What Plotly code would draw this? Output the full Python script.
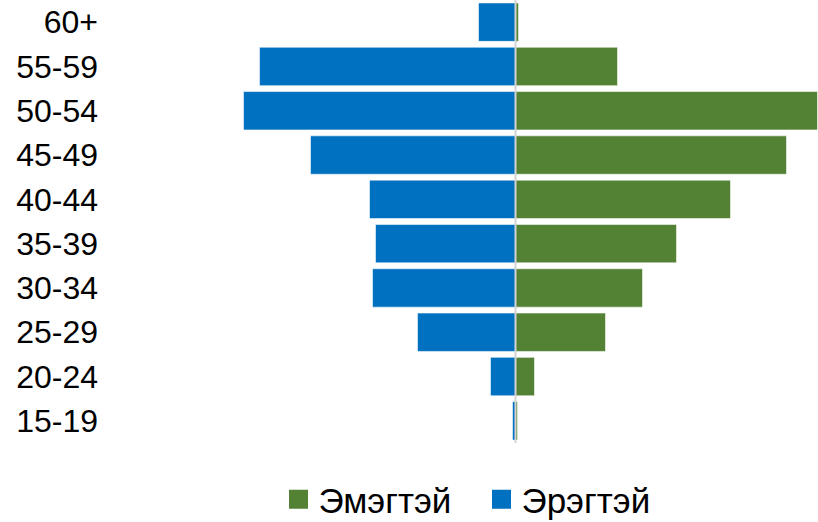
import plotly.graph_objects as go

age_groups = ["60+", "55-59", "50-54", "45-49", "40-44", "35-39", "30-34", "25-29", "20-24", "15-19"]
male = [37, 256, 272, 205, 146, 140, 143, 98, 25, 3]
female = [3, 102, 302, 271, 215, 161, 127, 90, 19, 2]
male_name = "Эрэгтэй"
female_name = "Эмэгтэй"

BLUE = "#0070C0"
GREEN = "#548235"
FONT = "Liberation Sans, Arial, sans-serif"

fig = go.Figure()
fig.add_trace(go.Bar(
    y=age_groups, x=[-v for v in male], orientation="h", name=male_name,
    marker=dict(color=BLUE, line=dict(color="rgba(255,255,255,0.55)", width=1)),
    showlegend=False,
))
fig.add_trace(go.Bar(
    y=age_groups, x=female, orientation="h", name=female_name,
    marker=dict(color=GREEN, line=dict(color="rgba(255,255,255,0.55)", width=1)),
    showlegend=False,
))
# legend entries (female first, as in the reference)
for nm, col in [(female_name, GREEN), (male_name, BLUE)]:
    fig.add_trace(go.Scatter(
        x=[None], y=[None], mode="markers", name=nm,
        marker=dict(symbol="square", size=19, color=col, line=dict(color=col, width=3)),
        showlegend=True,
    ))

fig.add_shape(type="line", xref="x", yref="paper", x0=0, x1=0, y0=0, y1=1,
              line=dict(color="#d4d4d4", width=2), layer="above")

fig.update_layout(
    width=818, height=522,
    margin=dict(l=99, r=0, t=0, b=78.5, autoexpand=False),
    paper_bgcolor="white", plot_bgcolor="white",
    barmode="relative", bargap=0.133,
    font=dict(family=FONT, size=32, color="#000000"),
    xaxis=dict(range=[-416.5, 302.5], showgrid=False, zeroline=False,
               showticklabels=False, ticks="", showline=False, fixedrange=True,
               automargin=False),
    yaxis=dict(categoryorder="array", categoryarray=age_groups[::-1],
               showgrid=False, zeroline=False, ticks="", showline=False,
               automargin=False, fixedrange=True,
               tickfont=dict(family=FONT, size=32, color="#000000")),
    legend=dict(orientation="h", x=(278.5 - 99) / 719, xanchor="left", y=-0.1274, yanchor="middle",
                font=dict(family=FONT, size=35, color="#000000"),
                traceorder="normal", itemsizing="trace",
                entrywidth=158, entrywidthmode="pixels"),
    showlegend=True,
)

fig.write_html("out.html", config={"displayModeBar": False},
               post_script="document.body.style.margin='0px';")
